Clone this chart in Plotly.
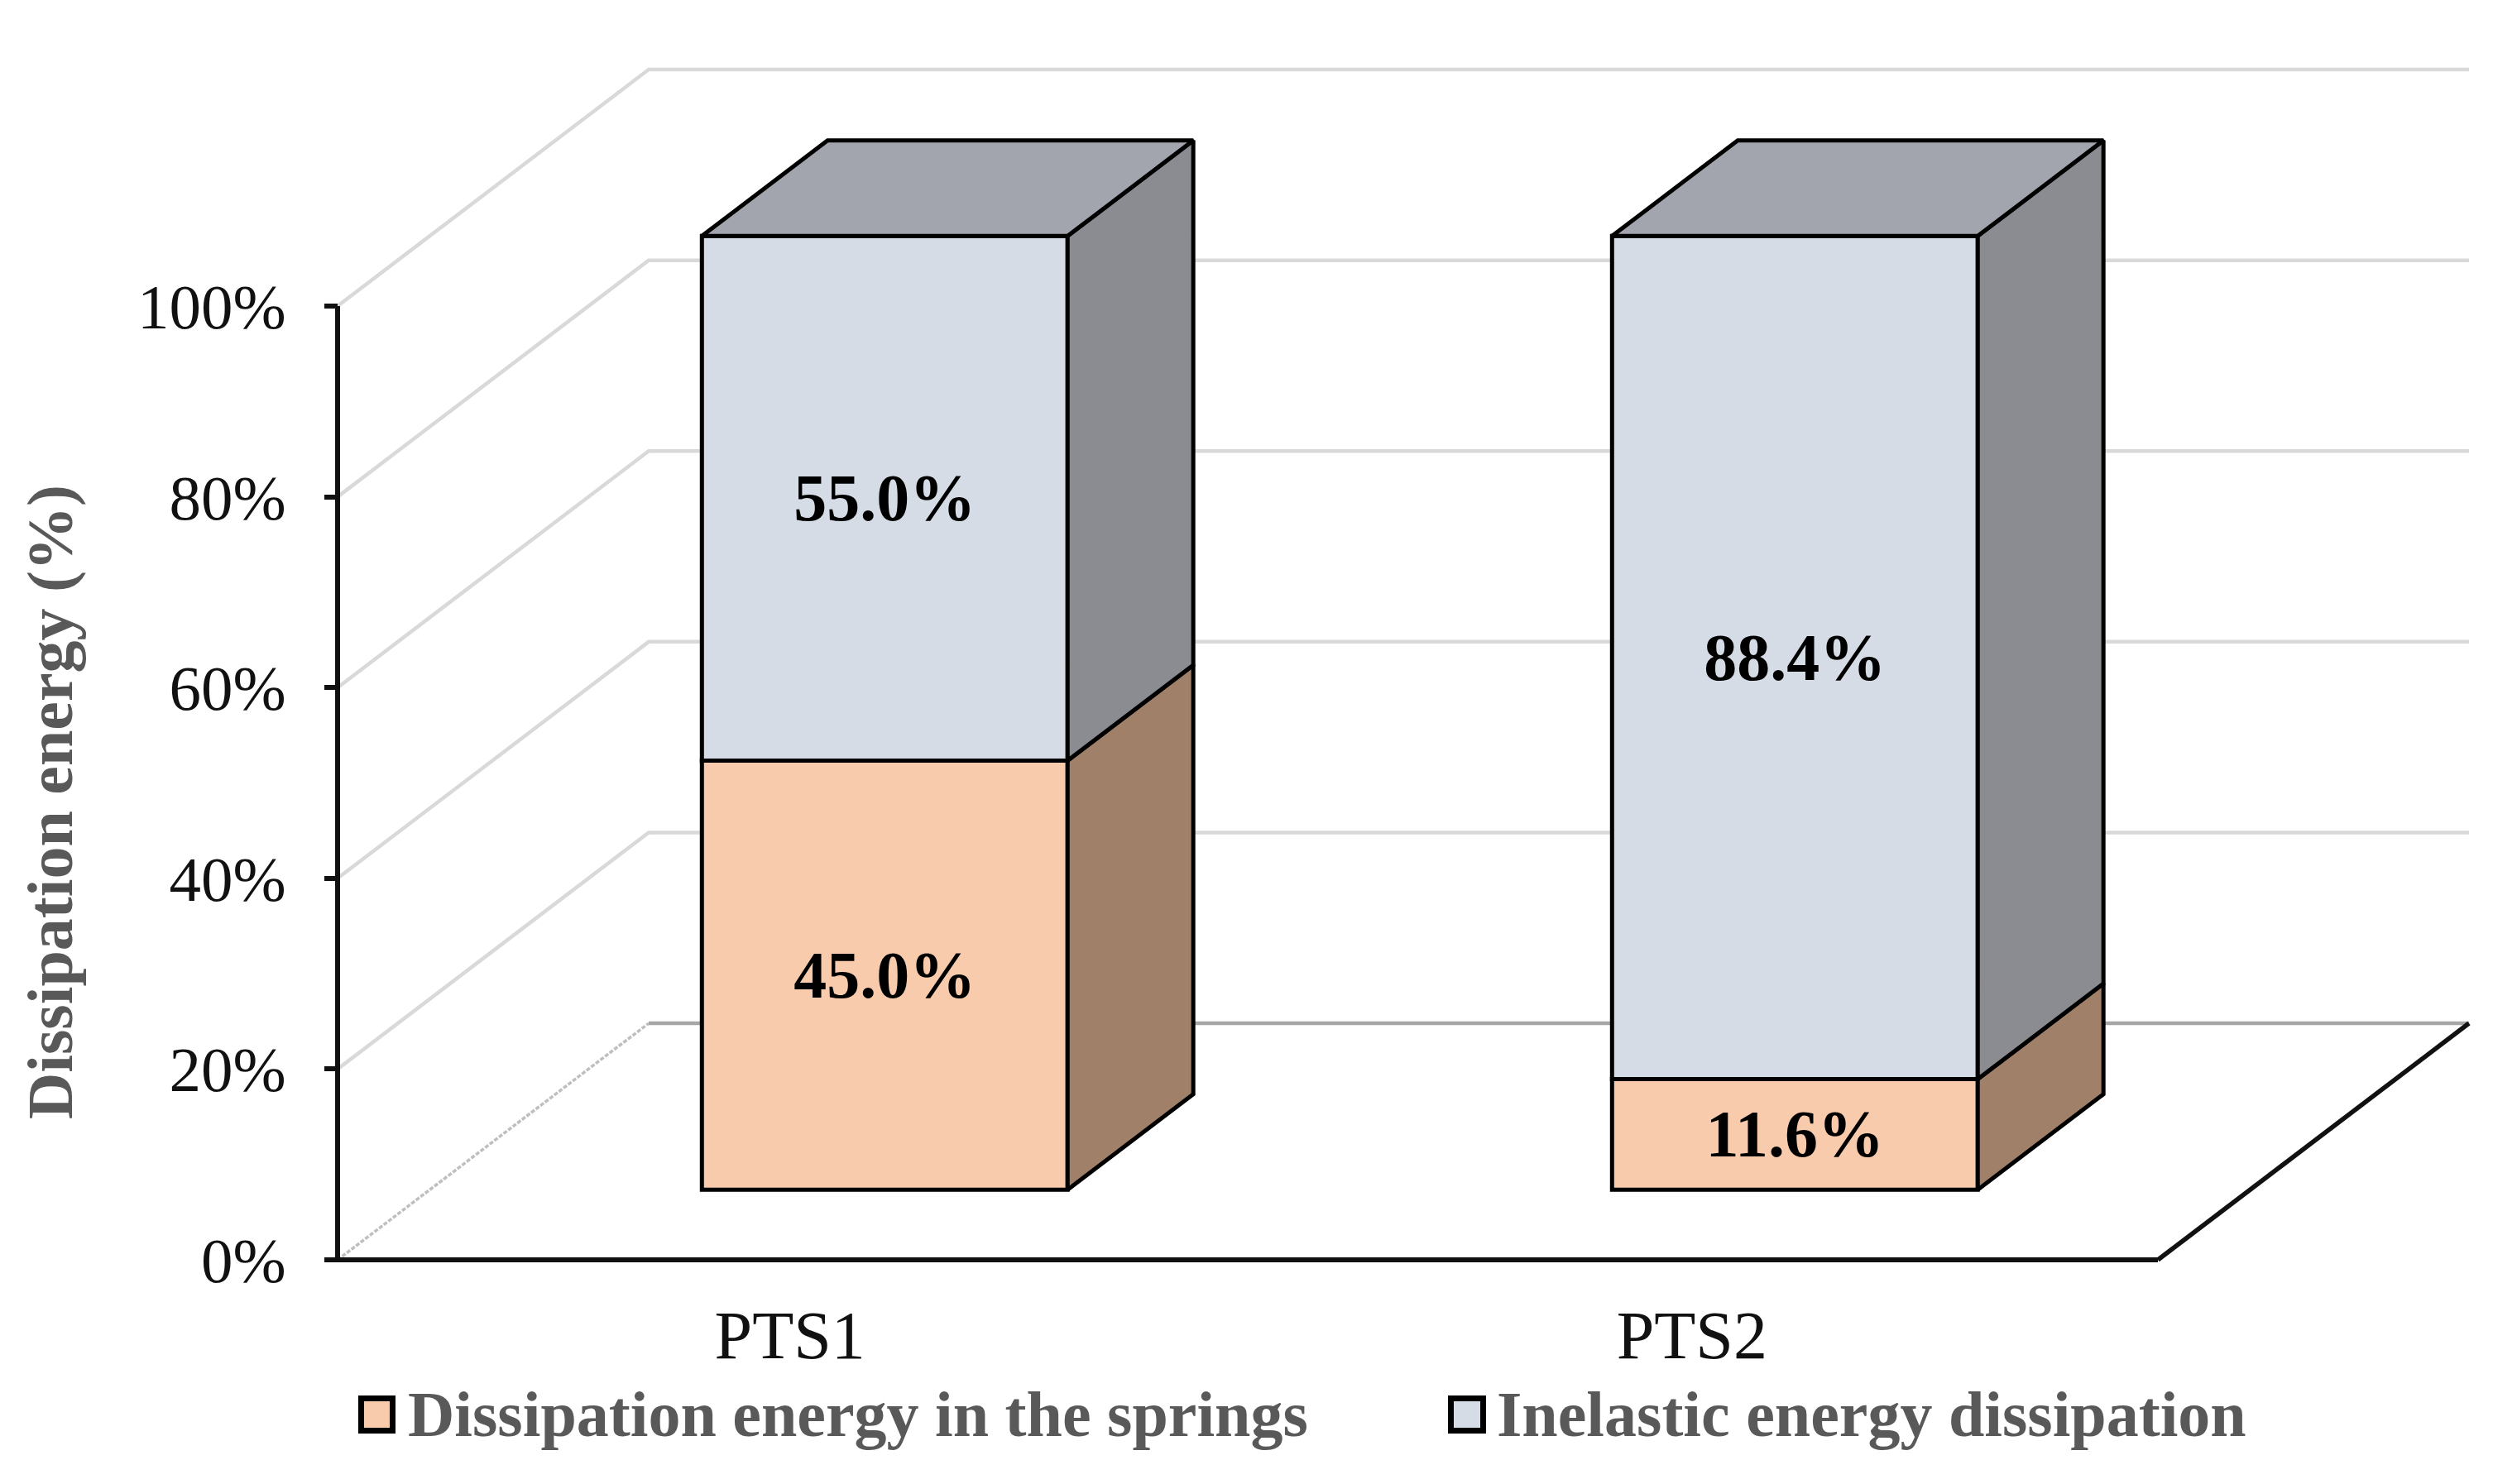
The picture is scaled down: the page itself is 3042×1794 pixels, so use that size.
import plotly.graph_objects as go

categories = ["PTS1", "PTS2"]
springs = [45.0, 11.6]
inelastic = [55.0, 88.4]
series_names = ["Dissipation energy in the springs", "Inelastic energy dissipation"]
y_ticks = [0, 20, 40, 60, 80, 100]
y_tick_labels = ["0%", "20%", "40%", "60%", "80%", "100%"]
y_title = "Dissipation energy (%)"

# oblique projection of the pseudo-3D chart (data units)
DX, DY = 0.3418, 24.8      # full floor depth
Z0, Z1 = 0.296, 0.70       # bar depth start / end (fraction of floor)
W = 0.4018                 # bar width
XL, XR = -0.5, 1.5
SERIF = "Liberation Serif"
GREY = "#595959"
PEACH, LIGHT = "#F8CBAD", "#D6DCE5"
PEACH_SIDE, LIGHT_SIDE, TOP = "#A18069", "#8A8C91", "#A2A5AD"
tick_nudge = [-0.003, -0.012]   # the category labels are not quite evenly spaced

fig = go.Figure()
pos = list(range(len(categories)))

# walls and floor (primary axes, underneath the bars)
gx, gy = [], []
for t in y_ticks[1:]:
    gx += [XL, XL + DX, XR + DX, None]
    gy += [t, t + DY, t + DY, None]
fig.add_trace(go.Scatter(x=gx, y=gy, mode="lines", line=dict(color="#D9D9D9", width=4.5),
                         showlegend=False, hoverinfo="skip"))
fig.add_trace(go.Scatter(x=[XL, XL + DX], y=[0, DY], mode="lines",
                         line=dict(color="#BFBFBF", width=3.5, dash="5px,2px"),
                         showlegend=False, hoverinfo="skip"))
fig.add_trace(go.Scatter(x=[XL + DX, XR + DX], y=[DY, DY], mode="lines",
                         line=dict(color="#A6A6A6", width=4.5),
                         showlegend=False, hoverinfo="skip"))
fig.add_trace(go.Scatter(x=[XR, XR + DX], y=[0, DY], mode="lines",
                         line=dict(color="#111111", width=5.5),
                         showlegend=False, hoverinfo="skip"))
fig.add_trace(go.Scatter(x=[XL, XR], y=[0, 0], mode="lines",
                         line=dict(color="#111111", width=6),
                         showlegend=False, hoverinfo="skip"))
fig.add_trace(go.Scatter(x=[XL, XL], y=[0, y_ticks[-1]], mode="lines",
                         line=dict(color="#111111", width=6),
                         showlegend=False, hoverinfo="skip"))

# front faces
front_x = [p + Z0 * DX for p in pos]
base0 = Z0 * DY
edge = dict(color="#000000", width=5)
label_font = dict(family=SERIF, size=80, color="#000000", weight="bold")
fig.add_trace(go.Bar(x=front_x, y=springs, base=[base0] * 2, width=W, xaxis="x2", yaxis="y2",
                     marker=dict(color=PEACH, line=edge), showlegend=False, hoverinfo="skip",
                     text=[f"{v:.1f}%" for v in springs], textposition="inside",
                     insidetextanchor="middle", textangle=0, insidetextfont=label_font))
fig.add_trace(go.Bar(x=front_x, y=inelastic, base=[base0 + v for v in springs], width=W,
                     xaxis="x2", yaxis="y2",
                     marker=dict(color=LIGHT, line=edge), showlegend=False, hoverinfo="skip",
                     text=[f"{v:.1f}%" for v in inelastic], textposition="inside",
                     insidetextanchor="middle", textangle=0, insidetextfont=label_font))

# side and top faces, derived from the values
def poly(xs, ys, fill):
    fig.add_trace(go.Scatter(x=xs + xs[:1], y=ys + ys[:1], mode="lines", fill="toself",
                             fillcolor=fill, line=dict(color="#000000", width=5),
                             xaxis="x2", yaxis="y2", showlegend=False, hoverinfo="skip"))

depth_x = (Z1 - Z0) * DX
depth_y = (Z1 - Z0) * DY
for p, a, b in zip(pos, springs, inelastic):
    r = p + Z0 * DX + W / 2
    l = r - W
    y0, y1, y2 = base0, base0 + a, base0 + a + b
    poly([r, r + depth_x, r + depth_x, r], [y0, y0 + depth_y, y1 + depth_y, y1], PEACH_SIDE)
    poly([r, r + depth_x, r + depth_x, r], [y1, y1 + depth_y, y2 + depth_y, y2], LIGHT_SIDE)
    poly([l, r, r + depth_x, l + depth_x], [y2, y2, y2 + depth_y, y2 + depth_y], TOP)

# legend entries (swatch body is the shape behind the legend's own swatch)
for name, col in zip(series_names, [PEACH, LIGHT]):
    fig.add_trace(go.Bar(x=[None], y=[None], name=name, marker=dict(color=col, line=dict(width=0)),
                         xaxis="x2", yaxis="y2"))

# page geometry: the browser's body margin is 8 px; the plot area has a small pad so
# that the axis lines at its edge are not clipped
OFF, PAD = 8, 10
FIG_W, FIG_H = 3030, 1780
PX_X = 1100.0    # pixels per category
PX_Y = 11.53     # pixels per percent
L, R, T, B = 408 - OFF - PAD, 2984 - OFF + PAD, 84 - OFF - PAD, 1523 - OFF + PAD
W_P, H_P = R - L, B - T
def px(x): return (x - OFF - L) / W_P
def py(y): return (B - (y - OFF)) / H_P
swatches = [(436.5, 474.5, PEACH), (1753.5, 1792.5, LIGHT)]
shapes = [dict(type="rect", xref="paper", yref="paper", x0=px(a), x1=px(b),
               y0=py(1729.5), y1=py(1690.5), fillcolor=c, line=dict(color="#000000", width=7),
               layer="above") for a, b, c in swatches]

x_range = [XL - PAD / PX_X, XL + (W_P - PAD) / PX_X]
y_range = [-PAD / PX_Y, (H_P - PAD) / PX_Y]
fig.update_layout(
    width=FIG_W, height=FIG_H,
    margin=dict(l=L, r=FIG_W - R, t=T, b=FIG_H - B, autoexpand=False),
    paper_bgcolor="white", plot_bgcolor="rgba(0,0,0,0)",
    barmode="overlay", shapes=shapes,
    xaxis=dict(range=x_range, tickvals=[p + n for p, n in zip(pos, tick_nudge)], ticktext=categories,
               showgrid=False, zeroline=False, showline=False, ticks="", ticklabelstandoff=36,
               anchor="free", position=PAD / H_P,
               tickfont=dict(family=SERIF, size=82, color="#111111")),
    yaxis=dict(range=y_range, tickvals=y_ticks, ticktext=y_tick_labels, showgrid=False, zeroline=False,
               showline=False, ticks="outside", ticklen=16, tickwidth=6, tickcolor="#111111",
               ticklabelstandoff=31, anchor="free", position=PAD / W_P,
               tickfont=dict(family=SERIF, size=77, color="#111111")),
    xaxis2=dict(range=x_range, overlaying="x", visible=False),
    yaxis2=dict(range=y_range, overlaying="y", visible=False),
    annotations=[dict(text=y_title, xref="paper", yref="paper", x=px(60), y=py(969),
                      xanchor="center", yanchor="middle", textangle=-90, showarrow=False,
                      font=dict(family=SERIF, size=78, color=GREY, weight="bold"))],
    legend=dict(orientation="h", x=px(390), xanchor="left", y=py(1706), yanchor="middle",
                entrywidth=1208, entrywidthmode="pixels", bgcolor="rgba(0,0,0,0)",
                traceorder="normal", indentation=40, itemwidth=53,
                font=dict(family=SERIF, size=78, color=GREY, weight="bold")),
)
fig.write_html("out.html")
